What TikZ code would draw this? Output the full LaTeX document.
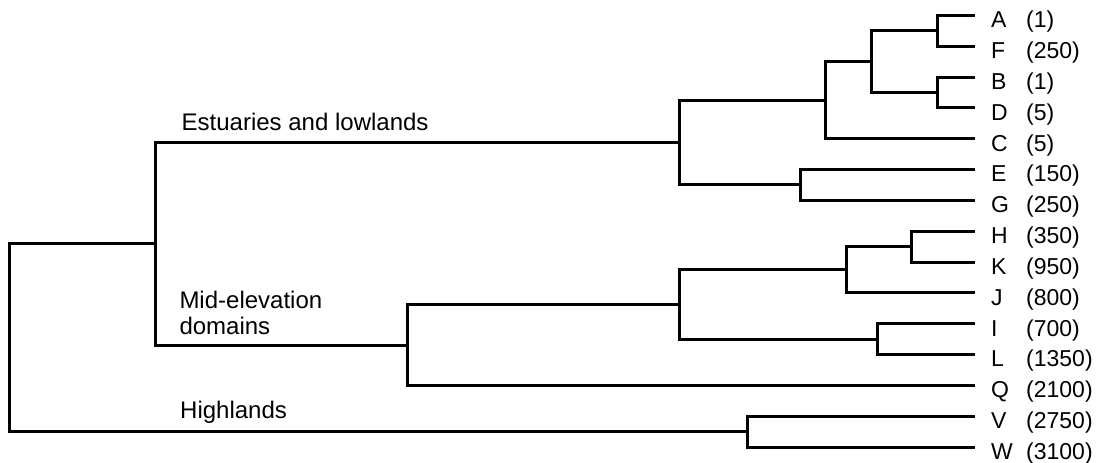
\documentclass[tikz,border=0pt]{standalone}
\usepackage{fontspec}
\setmainfont{Liberation Sans}
\begin{document}
\begin{tikzpicture}[x=1pt,y=-1pt,
  branch/.style={line width=3pt,line cap=rect,line join=miter},
  leaflabel/.style={anchor=base west,inner sep=0pt,font=\fontsize{23}{26}\selectfont},
  grouplabel/.style={anchor=base west,inner sep=0pt,align=left,font=\fontsize{24}{26}\selectfont}]
\useasboundingbox (0,0) rectangle (1100,463);

% leaf tips and their labels
\foreach \n/\y/\v in {A/15.3/(1),F/46.1/(250),B/77/(1),D/107.8/(5),C/138.7/(5),
  E/169.5/(150),G/200.3/(250),H/231.2/(350),K/262/(950),J/292.9/(800),
  I/323.7/(700),L/354.5/(1350),Q/385.4/(2100),V/416.2/(2750),W/447/(3100)}{
  \coordinate (\n) at (973,\y);
  \node[leaflabel] (l\n) at (991,\y+12.3) {\n};
  \node[leaflabel] (v\n) at (1026,\y+12.3) {\v};
}

% internal branch points
\coordinate (AF)     at (937,30.7);
\coordinate (BD)     at (937,92.4);
\coordinate (AFBD)   at (871,61.5);
\coordinate (AFBDC)  at (825,100.1);
\coordinate (EG)     at (800,184.9);
\coordinate (est)    at (679,142.5);
\coordinate (HK)     at (911,246.6);
\coordinate (HKJ)    at (846,269.8);
\coordinate (IL)     at (877,339.1);
\coordinate (HKJIL)  at (679,304.5);
\coordinate (mid)    at (407,345);
\coordinate (lowmid) at (155,243.7);
\coordinate (VW)     at (747,431.6);
\coordinate (root)   at (9.5,337.7);

% elbow connectors from each branch point to its children
\foreach \p/\c in {AF/A,AF/F,BD/B,BD/D,AFBD/AF,AFBD/BD,AFBDC/AFBD,AFBDC/C,
  EG/E,EG/G,est/AFBDC,est/EG,HK/H,HK/K,HKJ/HK,HKJ/J,IL/I,IL/L,
  HKJIL/HKJ,HKJIL/IL,mid/HKJIL,mid/Q,lowmid/est,lowmid/mid,
  VW/V,VW/W,root/lowmid,root/VW}{
  \draw[branch] (\p) |- (\c);
}

% clade names
\node[grouplabel] (gEst) at (181.5,130.7) {Estuaries and lowlands};
\node[grouplabel] (gMid) at (179.3,334) {Mid-elevation\\domains};
\node[grouplabel] (gHigh) at (180,418) {Highlands};
\end{tikzpicture}
\end{document}
